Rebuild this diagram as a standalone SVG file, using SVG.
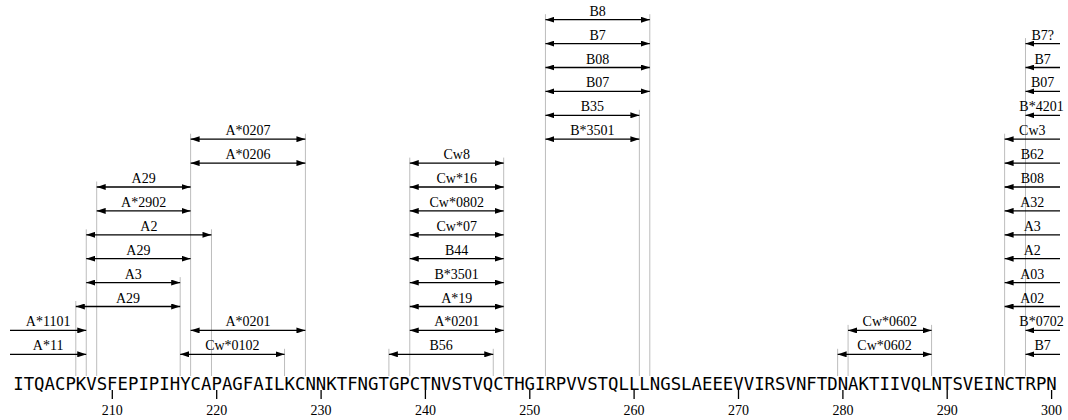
<svg xmlns="http://www.w3.org/2000/svg" width="1068" height="420" viewBox="0 0 1068 420">
<style>
.lbl{font-family:"Liberation Serif","Times New Roman",serif;font-size:14px;fill:#000;text-anchor:middle}
.ar{stroke:#000;stroke-width:1.3;fill:none}
.dbl{marker-start:url(#ah);marker-end:url(#ah)}
.one{marker-end:url(#ah)}
.guide{stroke:#bdbdbd;stroke-width:1}
.seq{font-family:"DejaVu Sans Mono",monospace;font-size:17.34px;fill:#000}
.tick{stroke:#000;stroke-width:1.3}
</style>
<defs>
<marker id="ah" viewBox="0 0 9 6" refX="9" refY="3" markerWidth="9" markerHeight="6" markerUnits="userSpaceOnUse" orient="auto-start-reverse">
<path d="M0,0 L9,3 L0,6 z" fill="#000"/>
</marker>
</defs>
<g id="guides">
<line class="guide" x1="75.8" y1="301" x2="75.8" y2="376"/>
<line class="guide" x1="86.25" y1="229.3" x2="86.25" y2="376"/>
<line class="guide" x1="96.69" y1="181.5" x2="96.69" y2="376"/>
<line class="guide" x1="180.18" y1="277.1" x2="180.18" y2="376"/>
<line class="guide" x1="190.61" y1="133.7" x2="190.61" y2="376"/>
<line class="guide" x1="211.48" y1="229.3" x2="211.48" y2="376"/>
<line class="guide" x1="284.54" y1="348.8" x2="284.54" y2="376"/>
<line class="guide" x1="305.41" y1="133.7" x2="305.41" y2="376"/>
<line class="guide" x1="388.9" y1="348.8" x2="388.9" y2="376"/>
<line class="guide" x1="409.77" y1="157.6" x2="409.77" y2="376"/>
<line class="guide" x1="493.26" y1="348.8" x2="493.26" y2="376"/>
<line class="guide" x1="503.69" y1="157.6" x2="503.69" y2="376"/>
<line class="guide" x1="545.44" y1="14.2" x2="545.44" y2="376"/>
<line class="guide" x1="639.36" y1="109.8" x2="639.36" y2="376"/>
<line class="guide" x1="649.8" y1="14.2" x2="649.8" y2="376"/>
<line class="guide" x1="837.64" y1="348.8" x2="837.64" y2="376"/>
<line class="guide" x1="848.08" y1="324.9" x2="848.08" y2="376"/>
<line class="guide" x1="931.57" y1="324.9" x2="931.57" y2="376"/>
<line class="guide" x1="1004.62" y1="133.7" x2="1004.62" y2="376"/>
<line class="guide" x1="1025.49" y1="38.1" x2="1025.49" y2="376"/>
</g>
<g id="connectors">
<line class="ar one" x1="10" y1="354.3" x2="86.25" y2="354.3"/>
<line class="ar one" x1="10" y1="330.4" x2="86.25" y2="330.4"/>
<line class="ar dbl" x1="180.18" y1="354.3" x2="284.54" y2="354.3"/>
<line class="ar dbl" x1="190.61" y1="330.4" x2="305.41" y2="330.4"/>
<line class="ar dbl" x1="75.8" y1="306.5" x2="180.18" y2="306.5"/>
<line class="ar dbl" x1="86.25" y1="282.6" x2="180.18" y2="282.6"/>
<line class="ar dbl" x1="86.25" y1="258.7" x2="190.61" y2="258.7"/>
<line class="ar dbl" x1="86.25" y1="234.8" x2="211.48" y2="234.8"/>
<line class="ar dbl" x1="96.69" y1="210.9" x2="190.61" y2="210.9"/>
<line class="ar dbl" x1="96.69" y1="187" x2="190.61" y2="187"/>
<line class="ar dbl" x1="190.61" y1="163.1" x2="305.41" y2="163.1"/>
<line class="ar dbl" x1="190.61" y1="139.2" x2="305.41" y2="139.2"/>
<line class="ar dbl" x1="388.9" y1="354.3" x2="493.26" y2="354.3"/>
<line class="ar dbl" x1="409.77" y1="330.4" x2="503.69" y2="330.4"/>
<line class="ar dbl" x1="409.77" y1="306.5" x2="503.69" y2="306.5"/>
<line class="ar dbl" x1="409.77" y1="282.6" x2="503.69" y2="282.6"/>
<line class="ar dbl" x1="409.77" y1="258.7" x2="503.69" y2="258.7"/>
<line class="ar dbl" x1="409.77" y1="234.8" x2="503.69" y2="234.8"/>
<line class="ar dbl" x1="409.77" y1="210.9" x2="503.69" y2="210.9"/>
<line class="ar dbl" x1="409.77" y1="187" x2="503.69" y2="187"/>
<line class="ar dbl" x1="409.77" y1="163.1" x2="503.69" y2="163.1"/>
<line class="ar dbl" x1="545.44" y1="139.2" x2="639.36" y2="139.2"/>
<line class="ar dbl" x1="545.44" y1="115.3" x2="639.36" y2="115.3"/>
<line class="ar dbl" x1="545.44" y1="91.4" x2="649.8" y2="91.4"/>
<line class="ar dbl" x1="545.44" y1="67.5" x2="649.8" y2="67.5"/>
<line class="ar dbl" x1="545.44" y1="43.6" x2="649.8" y2="43.6"/>
<line class="ar dbl" x1="545.44" y1="19.7" x2="649.8" y2="19.7"/>
<line class="ar dbl" x1="837.64" y1="354.3" x2="931.57" y2="354.3"/>
<line class="ar dbl" x1="848.08" y1="330.4" x2="931.57" y2="330.4"/>
<line class="ar one" x1="1060" y1="354.3" x2="1025.49" y2="354.3"/>
<line class="ar one" x1="1060" y1="330.4" x2="1025.49" y2="330.4"/>
<line class="ar one" x1="1060" y1="306.5" x2="1004.62" y2="306.5"/>
<line class="ar one" x1="1060" y1="282.6" x2="1004.62" y2="282.6"/>
<line class="ar one" x1="1060" y1="258.7" x2="1004.62" y2="258.7"/>
<line class="ar one" x1="1060" y1="234.8" x2="1004.62" y2="234.8"/>
<line class="ar one" x1="1060" y1="210.9" x2="1004.62" y2="210.9"/>
<line class="ar one" x1="1060" y1="187" x2="1004.62" y2="187"/>
<line class="ar one" x1="1060" y1="163.1" x2="1004.62" y2="163.1"/>
<line class="ar one" x1="1060" y1="139.2" x2="1004.62" y2="139.2"/>
<line class="ar one" x1="1060" y1="115.3" x2="1025.49" y2="115.3"/>
<line class="ar one" x1="1060" y1="91.4" x2="1025.49" y2="91.4"/>
<line class="ar one" x1="1060" y1="67.5" x2="1025.49" y2="67.5"/>
<line class="ar one" x1="1060" y1="43.6" x2="1025.49" y2="43.6"/>
</g>
<g id="labels">
<g id="ep-A11"><text class="lbl" x="48.1" y="350.3">A*11</text></g>
<g id="ep-A1101"><text class="lbl" x="48.1" y="326.4">A*1101</text></g>
<g id="ep-Cw0102"><text class="lbl" x="232.4" y="350.3">Cw*0102</text></g>
<g id="ep-A0201a"><text class="lbl" x="248" y="326.4">A*0201</text></g>
<g id="ep-A29a"><text class="lbl" x="128" y="302.5">A29</text></g>
<g id="ep-A3a"><text class="lbl" x="133.2" y="278.6">A3</text></g>
<g id="ep-A29b"><text class="lbl" x="138.4" y="254.7">A29</text></g>
<g id="ep-A2a"><text class="lbl" x="148.9" y="230.8">A2</text></g>
<g id="ep-A2902"><text class="lbl" x="143.65" y="206.9">A*2902</text></g>
<g id="ep-A29c"><text class="lbl" x="143.65" y="183">A29</text></g>
<g id="ep-A0206"><text class="lbl" x="248" y="159.1">A*0206</text></g>
<g id="ep-A0207"><text class="lbl" x="248" y="135.2">A*0207</text></g>
<g id="ep-B56"><text class="lbl" x="441.1" y="350.3">B56</text></g>
<g id="ep-A0201b"><text class="lbl" x="456.7" y="326.4">A*0201</text></g>
<g id="ep-A19"><text class="lbl" x="456.7" y="302.5">A*19</text></g>
<g id="ep-B3501a"><text class="lbl" x="456.7" y="278.6">B*3501</text></g>
<g id="ep-B44"><text class="lbl" x="456.7" y="254.7">B44</text></g>
<g id="ep-Cw07"><text class="lbl" x="456.7" y="230.8">Cw*07</text></g>
<g id="ep-Cw0802"><text class="lbl" x="456.7" y="206.9">Cw*0802</text></g>
<g id="ep-Cw16"><text class="lbl" x="456.7" y="183">Cw*16</text></g>
<g id="ep-Cw8"><text class="lbl" x="456.7" y="159.1">Cw8</text></g>
<g id="ep-B3501b"><text class="lbl" x="592.4" y="135.2">B*3501</text></g>
<g id="ep-B35"><text class="lbl" x="592.4" y="111.3">B35</text></g>
<g id="ep-B07a"><text class="lbl" x="597.6" y="87.4">B07</text></g>
<g id="ep-B08a"><text class="lbl" x="597.6" y="63.5">B08</text></g>
<g id="ep-B7a"><text class="lbl" x="597.6" y="39.6">B7</text></g>
<g id="ep-B8"><text class="lbl" x="597.6" y="15.7">B8</text></g>
<g id="ep-Cw0602a"><text class="lbl" x="884.6" y="350.3">Cw*0602</text></g>
<g id="ep-Cw0602b"><text class="lbl" x="889.8" y="326.4">Cw*0602</text></g>
<g id="ep-B7b"><text class="lbl" x="1042.7" y="350.3">B7</text></g>
<g id="ep-B0702"><text class="lbl" x="1041.5" y="326.4">B*0702</text></g>
<g id="ep-A02"><text class="lbl" x="1032.3" y="302.5">A02</text></g>
<g id="ep-A03"><text class="lbl" x="1032.3" y="278.6">A03</text></g>
<g id="ep-A2b"><text class="lbl" x="1032.3" y="254.7">A2</text></g>
<g id="ep-A3b"><text class="lbl" x="1032.3" y="230.8">A3</text></g>
<g id="ep-A32"><text class="lbl" x="1032.3" y="206.9">A32</text></g>
<g id="ep-B08b"><text class="lbl" x="1032.3" y="183">B08</text></g>
<g id="ep-B62"><text class="lbl" x="1032.3" y="159.1">B62</text></g>
<g id="ep-Cw3"><text class="lbl" x="1032.3" y="135.2">Cw3</text></g>
<g id="ep-B4201"><text class="lbl" x="1041.5" y="111.3">B*4201</text></g>
<g id="ep-B07b"><text class="lbl" x="1042.7" y="87.4">B07</text></g>
<g id="ep-B7c"><text class="lbl" x="1042.7" y="63.5">B7</text></g>
<g id="ep-B7q"><text class="lbl" x="1042.7" y="39.6">B7?</text></g>
</g>
<g id="sequence">
<text class="seq" x="13.2" y="389.5" textLength="1043.6" lengthAdjust="spacing">ITQACPKVSFEPIPIHYCAPAGFAILKCNNKTFNGTGPCTNVSTVQCTHGIRPVVSTQLLLNGSLAEEEVVIRSVNFTDNAKTIIVQLNTSVEINCTRPN</text>
</g>
<g id="axis">
<line class="tick" x1="112.3" y1="390" x2="112.3" y2="399"/>
<line class="tick" x1="216.7" y1="390" x2="216.7" y2="399"/>
<line class="tick" x1="321.1" y1="390" x2="321.1" y2="399"/>
<line class="tick" x1="425.4" y1="390" x2="425.4" y2="399"/>
<line class="tick" x1="529.8" y1="390" x2="529.8" y2="399"/>
<line class="tick" x1="634.1" y1="390" x2="634.1" y2="399"/>
<line class="tick" x1="738.5" y1="390" x2="738.5" y2="399"/>
<line class="tick" x1="842.9" y1="390" x2="842.9" y2="399"/>
<line class="tick" x1="947.2" y1="390" x2="947.2" y2="399"/>
<line class="tick" x1="1051.6" y1="390" x2="1051.6" y2="399"/>
<text class="lbl" x="112.3" y="415">210</text>
<text class="lbl" x="216.7" y="415">220</text>
<text class="lbl" x="321.1" y="415">230</text>
<text class="lbl" x="425.4" y="415">240</text>
<text class="lbl" x="529.8" y="415">250</text>
<text class="lbl" x="634.1" y="415">260</text>
<text class="lbl" x="738.5" y="415">270</text>
<text class="lbl" x="842.9" y="415">280</text>
<text class="lbl" x="947.2" y="415">290</text>
<text class="lbl" x="1051.6" y="415">300</text>
</g>
</svg>
